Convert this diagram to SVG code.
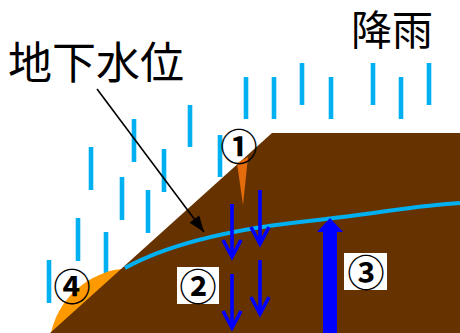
<svg xmlns="http://www.w3.org/2000/svg" width="460" height="333" viewBox="0 0 460 333">
  <defs>
    <style>
      .rain { stroke: #00B0F0; stroke-width: 4.6; }
      .flow { stroke: #0000FF; stroke-width: 3.6; fill: none; }
      .title { font-family: "Noto Sans CJK JP", "Noto Sans", sans-serif; fill: #000; }
      .num { font-family: "Noto Sans CJK JP", "DejaVu Sans", sans-serif; font-size: 37px; font-weight: bold; fill: #000; text-anchor: middle; dominant-baseline: central; }
      .tag { fill: #FFFFFF; }
    </style>
    <marker id="vhead" markerUnits="userSpaceOnUse" orient="auto" refX="0" refY="0" markerWidth="30" markerHeight="30" overflow="visible">
      <path d="M-17,-9 L0,0 L-17,9" fill="none" stroke="#0000FF" stroke-width="3.6" stroke-linejoin="miter"/>
    </marker>
    <marker id="blackhead" markerUnits="userSpaceOnUse" orient="auto" refX="0" refY="0" markerWidth="30" markerHeight="30" overflow="visible">
      <path d="M0,0 L-16,-6 L-16,6 Z" fill="#000"/>
    </marker>
  </defs>

  <rect width="460" height="333" fill="#FFFFFF"/>

  <!-- rainfall streaks -->
  <g id="rain">
    <line class="rain" x1="246" y1="77" x2="246" y2="119"/>
    <line class="rain" x1="274" y1="77" x2="274" y2="119"/>
    <line class="rain" x1="302" y1="63" x2="302" y2="105"/>
    <line class="rain" x1="331" y1="77" x2="331" y2="119"/>
    <line class="rain" x1="373" y1="63" x2="373" y2="105"/>
    <line class="rain" x1="401" y1="77" x2="401" y2="119"/>
    <line class="rain" x1="429" y1="63" x2="429" y2="105"/>
    <line class="rain" x1="190" y1="105" x2="190" y2="147"/>
    <line class="rain" x1="220" y1="135" x2="220" y2="177"/>
    <line class="rain" x1="134" y1="119" x2="134" y2="162"/>
    <line class="rain" x1="164" y1="149" x2="164" y2="192"/>
    <line class="rain" x1="91" y1="147" x2="91" y2="190"/>
    <line class="rain" x1="122" y1="177" x2="122" y2="220"/>
    <line class="rain" x1="148" y1="190" x2="148" y2="233"/>
    <line class="rain" x1="78" y1="218" x2="78" y2="261"/>
    <line class="rain" x1="106" y1="232" x2="106" y2="275"/>
    <line class="rain" x1="49" y1="260" x2="49" y2="303"/>
  </g>

  <!-- seepage bulge at the toe of the slope -->
  <path id="toe" d="M51,333 L122,269 C100,270 60,290 51,333 Z" fill="#FF9900"/>

  <!-- hillside soil -->
  <path id="ground" d="M50,333 L272,133 L460,133 L460,333 Z" fill="#663300"/>

  <!-- surface crack -->
  <path id="crack" d="M237,163 L248,157 L243,205 Z" fill="#E46C0A"/>

  <!-- water table -->
  <path id="watertable" d="M125,268 C165,246 220,231 300,222 S420,205 460,203" fill="none" stroke="#00B0F0" stroke-width="4"/>

  <!-- infiltration and uplift arrows -->
  <g id="connectors">
    <line class="flow" x1="232" y1="204" x2="232" y2="257" marker-end="url(#vhead)"/>
    <line class="flow" x1="260" y1="190" x2="260" y2="244" marker-end="url(#vhead)"/>
    <line class="flow" x1="232" y1="274" x2="232" y2="328" marker-end="url(#vhead)"/>
    <line class="flow" x1="260" y1="260" x2="260" y2="314" marker-end="url(#vhead)"/>
    <path d="M323,333 L323,232 L317,232 L330,218 L343,232 L337,232 L337,333 Z" fill="#0000FF"/>
    <line x1="97" y1="89" x2="204" y2="232" stroke="#000" stroke-width="1.6" marker-end="url(#blackhead)"/>
  </g>

  <!-- labels -->
  <g id="label-rain">
    <text class="title" x="351" y="45" font-size="41">降雨</text>
  </g>
  <g id="label-watertable">
    <text class="title" x="8" y="79" font-size="44">地下水位</text>
  </g>
  <g id="label-1">
    <text class="num" x="239" y="145">①</text>
  </g>
  <g id="label-2">
    <rect class="tag" x="177" y="267" width="42" height="37"/>
    <text class="num" x="198" y="285">②</text>
  </g>
  <g id="label-3">
    <rect class="tag" x="344" y="253" width="43" height="37"/>
    <text class="num" x="366" y="271">③</text>
  </g>
  <g id="label-4">
    <text class="num" x="72" y="285">④</text>
  </g>
</svg>
